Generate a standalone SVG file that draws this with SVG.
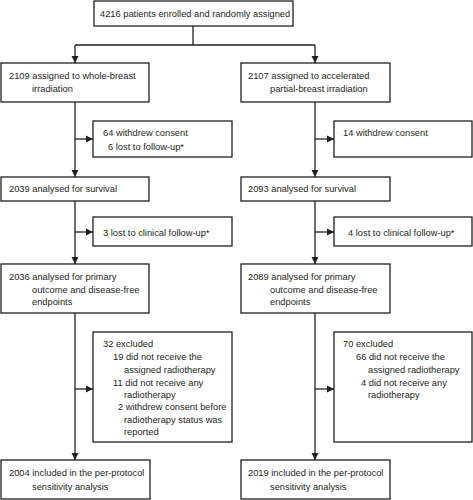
<svg xmlns="http://www.w3.org/2000/svg" width="473" height="500" viewBox="0 0 473 500">
<style>
.box{fill:#fff;stroke:#231f20;stroke-width:1.3}
.ln{fill:none;stroke:#231f20;stroke-width:1.3}
text{font-family:"Liberation Sans",Arial,sans-serif;font-size:9.3px;fill:#231f20}
</style>
<defs>
<marker id="ah" markerUnits="userSpaceOnUse" markerWidth="8" markerHeight="8" viewBox="0 0 8 8" refX="7" refY="4" orient="auto">
<path d="M0,0.5 L7,4 L0,7.5 Z" fill="#231f20"/>
</marker>
</defs>
<rect width="473" height="500" fill="#fff"/>
<g id="connectors">
<path class="ln" d="M193,26 V45"/>
<path class="ln" d="M75,45 H315"/>
<path class="ln" d="M75,45 V63" marker-end="url(#ah)"/>
<path class="ln" d="M315,45 V63" marker-end="url(#ah)"/>
<path class="ln" d="M75,102 V177" marker-end="url(#ah)"/>
<path class="ln" d="M75,139 H93" marker-end="url(#ah)"/>
<path class="ln" d="M315,102 V177" marker-end="url(#ah)"/>
<path class="ln" d="M315,139 H334" marker-end="url(#ah)"/>
<path class="ln" d="M75,201 V264" marker-end="url(#ah)"/>
<path class="ln" d="M75,232 H93" marker-end="url(#ah)"/>
<path class="ln" d="M315,201 V264" marker-end="url(#ah)"/>
<path class="ln" d="M315,232 H334" marker-end="url(#ah)"/>
<path class="ln" d="M75,313 V460" marker-end="url(#ah)"/>
<path class="ln" d="M75,389 H93" marker-end="url(#ah)"/>
<path class="ln" d="M315,313 V460" marker-end="url(#ah)"/>
<path class="ln" d="M315,389 H334" marker-end="url(#ah)"/>
</g>
<g id="enrolled">
<rect class="box" x="94" y="1" width="199" height="25"/>
<text x="100" y="17">4216 patients enrolled and randomly assigned</text>
</g>
<g id="wbi">
<rect class="box" x="1" y="63" width="148" height="39"/>
<text x="9" y="79">2109 assigned to whole-breast</text>
<text x="32" y="92">irradiation</text>
</g>
<g id="apbi">
<rect class="box" x="241" y="63" width="149" height="39"/>
<text x="248" y="79">2107 assigned to accelerated</text>
<text x="270" y="92">partial-breast irradiation</text>
</g>
<g id="wbi-excl1">
<rect class="box" x="93" y="121" width="139" height="36"/>
<text x="103" y="136">64 withdrew consent</text>
<text x="108" y="150">6 lost to follow-up*</text>
</g>
<g id="apbi-excl1">
<rect class="box" x="334" y="121" width="138" height="36"/>
<text x="343" y="136">14 withdrew consent</text>
</g>
<g id="wbi-survival">
<rect class="box" x="1" y="177" width="148" height="24"/>
<text x="9" y="192">2039 analysed for survival</text>
</g>
<g id="apbi-survival">
<rect class="box" x="241" y="177" width="149" height="24"/>
<text x="248" y="192">2093 analysed for survival</text>
</g>
<g id="wbi-excl2">
<rect class="box" x="93" y="217" width="139" height="29"/>
<text x="103" y="236">3 lost to clinical follow-up*</text>
</g>
<g id="apbi-excl2">
<rect class="box" x="334" y="217" width="138" height="29"/>
<text x="348" y="236">4 lost to clinical follow-up*</text>
</g>
<g id="wbi-primary">
<rect class="box" x="1" y="264" width="148" height="49"/>
<text x="9" y="280">2036 analysed for primary</text>
<text x="32" y="292.5">outcome and disease-free</text>
<text x="32" y="305">endpoints</text>
</g>
<g id="apbi-primary">
<rect class="box" x="241" y="264" width="149" height="49"/>
<text x="248" y="280">2089 analysed for primary</text>
<text x="270" y="292.5">outcome and disease-free</text>
<text x="270" y="305">endpoints</text>
</g>
<g id="wbi-excl3">
<rect class="box" x="93" y="332" width="139" height="110"/>
<text x="103" y="347">32 excluded</text>
<text x="113" y="360">19 did not receive the</text>
<text x="124" y="372.5">assigned radiotherapy</text>
<text x="113" y="385.5">11 did not receive any</text>
<text x="124" y="397.5">radiotherapy</text>
<text x="118" y="410">2 withdrew consent before</text>
<text x="124" y="422.5">radiotherapy status was</text>
<text x="124" y="435">reported</text>
</g>
<g id="apbi-excl3">
<rect class="box" x="334" y="332" width="138" height="110"/>
<text x="343" y="347">70 excluded</text>
<text x="356" y="360">66 did not receive the</text>
<text x="368" y="372.5">assigned radiotherapy</text>
<text x="361" y="385.5">4 did not receive any</text>
<text x="368" y="397.5">radiotherapy</text>
</g>
<g id="wbi-pp">
<rect class="box" x="1" y="460" width="149" height="39"/>
<text x="9" y="476">2004 included in the per-protocol</text>
<text x="32" y="490">sensitivity analysis</text>
</g>
<g id="apbi-pp">
<rect class="box" x="241" y="460" width="149" height="39"/>
<text x="248" y="476">2019 included in the per-protocol</text>
<text x="270" y="490">sensitivity analysis</text>
</g>
</svg>
